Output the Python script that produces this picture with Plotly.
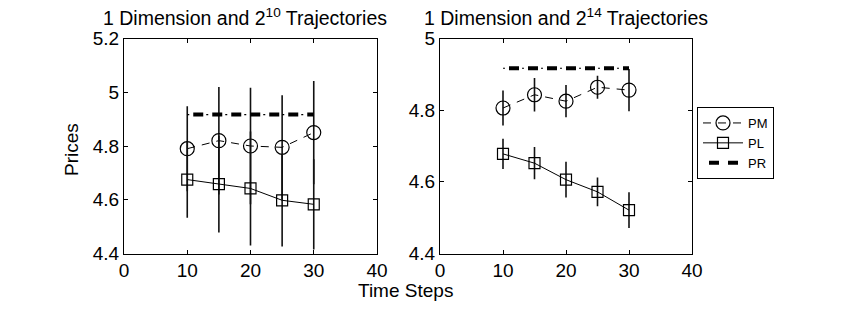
import plotly.graph_objects as go

steps = [10, 15, 20, 25, 30]

# Left panel: 2^10 trajectories
pm_left = [4.79, 4.82, 4.80, 4.795, 4.85]
pm_left_err = [0.158, 0.200, 0.217, 0.194, 0.192]
pl_left = [4.675, 4.658, 4.642, 4.598, 4.583]
pl_left_err = [0.142, 0.180, 0.212, 0.172, 0.168]
pr_left = [4.917, 4.917, 4.917, 4.917, 4.917]

# Right panel: 2^14 trajectories
pm_right = [4.806, 4.843, 4.825, 4.864, 4.856]
pm_right_err = [0.049, 0.047, 0.045, 0.032, 0.059]
pl_right = [4.678, 4.652, 4.606, 4.572, 4.521]
pl_right_err = [0.042, 0.045, 0.050, 0.040, 0.050]
pr_right = [4.917, 4.917, 4.917, 4.917, 4.917]

titles = ["1 Dimension and 2<sup>10</sup> Trajectories",
          "1 Dimension and 2<sup>14</sup> Trajectories"]
x_ticks = [0, 10, 20, 30, 40]
y_ticks_left = [4.4, 4.6, 4.8, 5.0, 5.2]
y_ticks_right = [4.4, 4.6, 4.8, 5.0]

FONT = "Liberation Sans, Arial, Helvetica, sans-serif"
FS = 19
fig = go.Figure()

def add_panel(xa, ya, pm, pm_err, pl, pl_err, pr, show):
    fig.add_trace(go.Scatter(
        x=steps, y=pm, xaxis=xa, yaxis=ya, name="PM", showlegend=show,
        mode="lines+markers",
        line=dict(color="black", width=1, dash="8px,7px"),
        marker=dict(symbol="circle-open", size=14, color="black", line=dict(width=1.2)),
        error_y=dict(type="data", array=pm_err, visible=True, thickness=1.6, width=0, color="#111"),
    ))
    fig.add_trace(go.Scatter(
        x=steps, y=pl, xaxis=xa, yaxis=ya, name="PL", showlegend=show,
        mode="lines+markers",
        line=dict(color="black", width=1),
        marker=dict(symbol="square-open", size=11, color="black", line=dict(width=1.2)),
        error_y=dict(type="data", array=pl_err, visible=True, thickness=1.6, width=0, color="#111"),
    ))
    fig.add_trace(go.Scatter(
        x=steps, y=pr, xaxis=xa, yaxis=ya, name="PR", showlegend=show,
        mode="lines", line=dict(color="black", width=4, dash="0px,6px,10px,3px"),
    ))
    fig.add_trace(go.Scatter(
        x=steps, y=pr, xaxis=xa, yaxis=ya, name="PR", showlegend=False,
        mode="lines", line=dict(color="black", width=1.2, dash="2px,17px"),
        hoverinfo="skip",
    ))

add_panel("x", "y", pm_left, pm_left_err, pl_left, pl_left_err, pr_left, True)
add_panel("x2", "y2", pm_right, pm_right_err, pl_right, pl_right_err, pr_right, False)

W, H = 854, 310
def px_x(v):
    return v / W
def px_y(v):
    return (H - v) / H

axis_common = dict(
    showline=True, linecolor="black", linewidth=1, mirror="ticks",
    ticks="inside", ticklen=4, tickcolor="black", showgrid=False, zeroline=False,
    tickfont=dict(family=FONT, size=FS, color="black"), automargin=False,
)

fig.update_layout(
    width=W, height=H,
    margin=dict(l=0, r=0, t=0, b=0),
    paper_bgcolor="white", plot_bgcolor="white",
    font=dict(family=FONT, size=FS, color="black"),
    hovermode=False,
    xaxis=dict(domain=[px_x(124), px_x(377)], range=[0, 40], tickvals=x_ticks, anchor="y", **axis_common),
    yaxis=dict(domain=[px_y(253.5), px_y(38.5)], range=[4.4, 5.2], tickvals=y_ticks_left,
               ticktext=["4.4", "4.6", "4.8", "5", "5.2"], anchor="x", **axis_common),
    xaxis2=dict(domain=[px_x(440), px_x(692)], range=[0, 40], tickvals=x_ticks, anchor="y2", **axis_common),
    yaxis2=dict(domain=[px_y(253.5), px_y(38.5)], range=[4.4, 5.0], tickvals=y_ticks_right,
                ticktext=["4.4", "4.6", "4.8", "5"], anchor="x2", **axis_common),
    legend=dict(x=px_x(697), y=px_y(107), xanchor="left", yanchor="top",
                bordercolor="black", borderwidth=1, bgcolor="white",
                font=dict(family=FONT, size=13, color="black"), itemwidth=40,
                tracegroupgap=0),
    showlegend=True,
)

for txt, cx in zip(titles, [245, 566]):
    fig.add_annotation(text=txt, x=px_x(cx), y=px_y(17), xref="paper", yref="paper",
                       showarrow=False, font=dict(family=FONT, size=19.5, color="black"),
                       xanchor="center", yanchor="middle")
fig.add_annotation(text="Time Steps", x=px_x(405), y=px_y(290), xref="paper", yref="paper",
                   showarrow=False, font=dict(family=FONT, size=FS, color="black"),
                   xanchor="center", yanchor="middle")
fig.add_annotation(text="Prices", x=px_x(71), y=px_y(150), xref="paper", yref="paper",
                   showarrow=False, textangle=-90, font=dict(family=FONT, size=FS, color="black"),
                   xanchor="center", yanchor="middle")

fig.write_html("out.html", config={"displayModeBar": False},
               post_script="document.body.style.margin='0';")
